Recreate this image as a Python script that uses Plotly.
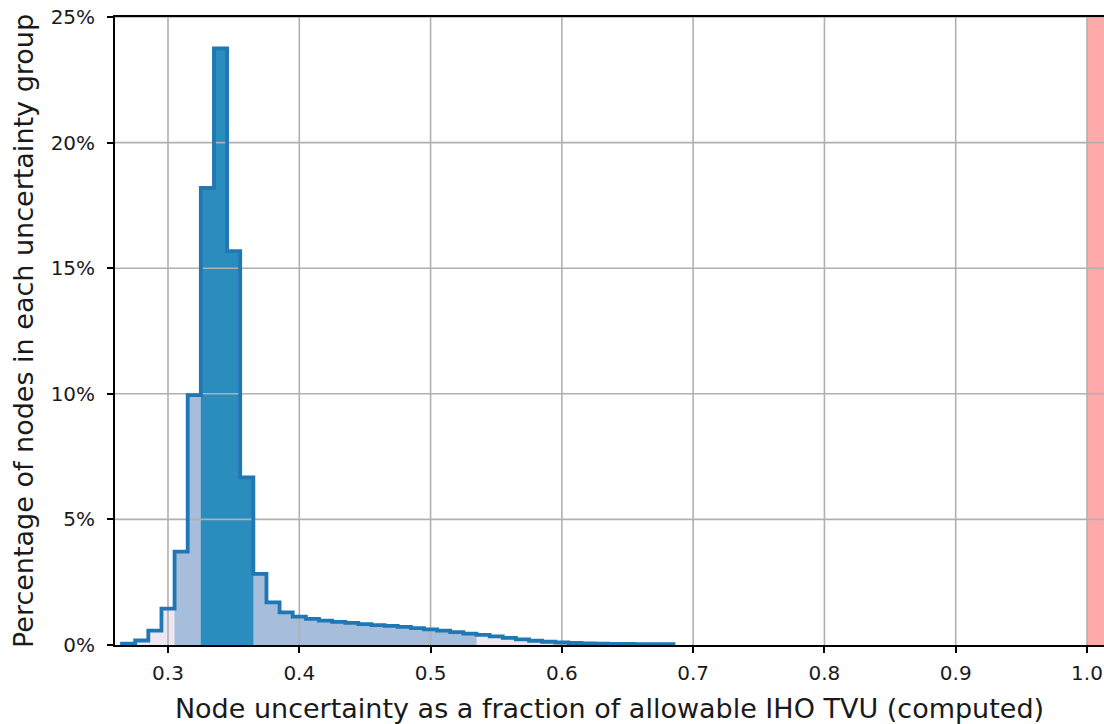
import plotly.graph_objects as go

# Histogram of node uncertainty (fraction of allowable IHO TVU), bin width 0.01
bin_start = 0.265
bin_width = 0.01
pct_nodes = [
    0.05, 0.18, 0.57, 1.45, 3.72, 9.95, 18.2, 23.75, 15.68, 6.67,
    2.83, 1.70, 1.30, 1.13, 1.04, 0.97, 0.92, 0.88, 0.83, 0.79,
    0.76, 0.72, 0.67, 0.62, 0.57, 0.51, 0.45, 0.40, 0.34, 0.28,
    0.22, 0.17, 0.13, 0.10, 0.08, 0.06, 0.05, 0.04, 0.04, 0.03,
    0.03, 0.03,
]

# Shaded ranges of the distribution
outer_band = (0.265, 0.685)
middle_band = (0.305, 0.535)
core_band = (0.325, 0.365)
limit_start = 1.0

x_ticks = [0.3, 0.4, 0.5, 0.6, 0.7, 0.8, 0.9, 1.0]
x_tick_text = ["0.3", "0.4", "0.5", "0.6", "0.7", "0.8", "0.9", "1.0"]
y_ticks = [0, 5, 10, 15, 20, 25]
y_tick_text = ["0%", "5%", "10%", "15%", "20%", "25%"]

x_range = [0.25963, 1.01295]
y_range = [0, 25]

edges = [round(bin_start + i * bin_width, 4) for i in range(len(pct_nodes) + 1)]


def band_steps(lo, hi):
    xs, ys = [], []
    for i, v in enumerate(pct_nodes):
        if edges[i] >= lo - 1e-9 and edges[i + 1] <= hi + 1e-9:
            xs.append(edges[i])
            ys.append(v)
    xs.append(round(xs[-1] + bin_width, 4))
    ys.append(ys[-1])
    return xs, ys


fig = go.Figure()

# Region above the allowable limit
fig.add_shape(type="rect", xref="x", yref="paper", x0=limit_start, x1=1.2,
              y0=0, y1=1, fillcolor="#ffaaaa", line_width=0, layer="below")

for (lo, hi), color in [(outer_band, "#ece7f2"), (middle_band, "#a6bddb"),
                        (core_band, "#2b8cbe")]:
    bx, by = band_steps(lo, hi)
    fig.add_trace(go.Scatter(x=bx, y=by, mode="lines", line_shape="hv",
                             line=dict(width=0, color=color), fill="tozeroy",
                             fillcolor=color, hoverinfo="skip", showlegend=False))

# Grid drawn over the shaded bands
grid_color = "#b0b0b0"
for xv in x_ticks:
    fig.add_trace(go.Scatter(x=[xv, xv], y=y_range, mode="lines",
                             line=dict(color=grid_color, width=1.6),
                             hoverinfo="skip", showlegend=False))
for yv in y_ticks[1:]:
    fig.add_trace(go.Scatter(x=x_range, y=[yv, yv], mode="lines",
                             line=dict(color=grid_color, width=1.6),
                             hoverinfo="skip", showlegend=False))

# Step outline of the histogram
ox = [edges[0]] + edges + [edges[-1]]
oy = [0] + pct_nodes + [pct_nodes[-1], 0]
fig.add_trace(go.Scatter(x=ox, y=oy, mode="lines", line_shape="hv",
                         line=dict(color="#1f77b4", width=3.8),
                         hoverinfo="skip", showlegend=False))

fig.update_layout(
    width=1104, height=724,
    margin=dict(l=115, r=0, t=17, b=79),
    paper_bgcolor="white", plot_bgcolor="white",
    font=dict(family="DejaVu Sans", color="#1a1a1a", size=20),
    showlegend=False,
)
fig.update_xaxes(
    range=x_range, tickvals=x_ticks, ticktext=x_tick_text,
    showgrid=False, zeroline=False, automargin=False,
    showline=True, linecolor="black", linewidth=1.8, mirror=True,
    ticks="outside", ticklen=6, tickwidth=1.8, tickcolor="black",
    tickfont=dict(size=20), ticklabelstandoff=3,
    title=dict(text="Node uncertainty as a fraction of allowable IHO TVU (computed)",
               font=dict(size=27), standoff=16),
)
fig.update_yaxes(
    range=y_range, tickvals=y_ticks, ticktext=y_tick_text,
    showgrid=False, zeroline=False, automargin=False,
    showline=True, linecolor="black", linewidth=1.8,
    ticks="outside", ticklen=6, tickwidth=1.8, tickcolor="black",
    tickfont=dict(size=20), ticklabelstandoff=8,
    title=dict(text="Percentage of nodes in each uncertainty group",
               font=dict(size=27), standoff=9),
)

fig.write_html("out.html")
